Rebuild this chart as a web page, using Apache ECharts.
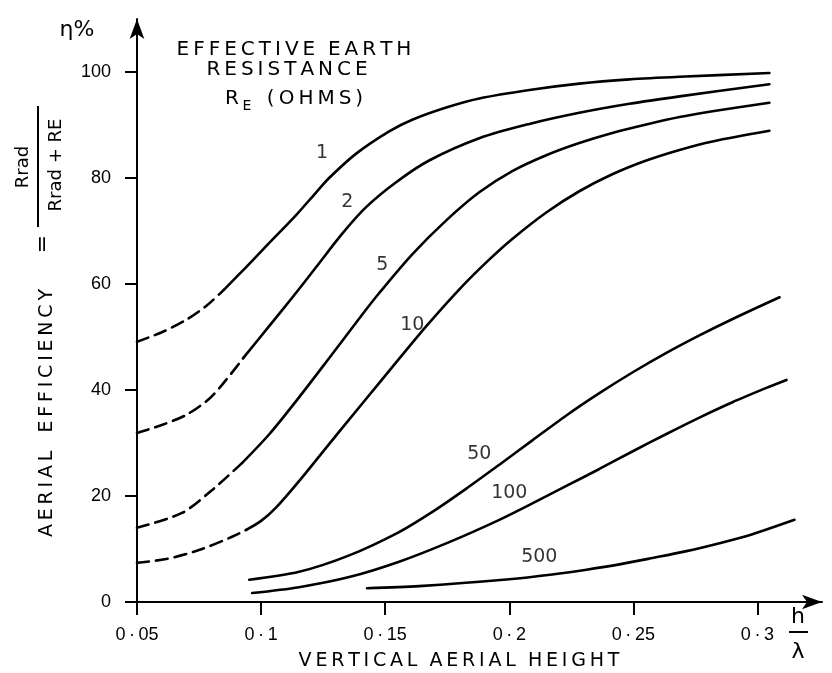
<!DOCTYPE html>
<html>
<head>
<meta charset="utf-8">
<script src="https://cdn.jsdelivr.net/npm/echarts@6/dist/echarts.min.js"></script>
<style>html,body{margin:0;padding:0;background:#fff}#c{width:832px;height:673px}</style>
</head>
<body>
<div id="c"></div>
<script>
// ---- data (h/lambda, efficiency %) ----
const xTicks = [0.05, 0.1, 0.15, 0.2, 0.25, 0.3];
const xTickLabels = ['0·05', '0·1', '0·15', '0·2', '0·25', '0·3'];
const yTicks = [0, 20, 40, 60, 80, 100];
const yTickLabels = ['0', '20', '40', '60', '80', '100'];

const re1Dashed = [[0.05,49.1],[0.060,50.9],[0.070,53.3],[0.078,55.9],[0.085,58.9]];
const re1Solid = [[0.085,58.9],[0.0940,63.2],[0.1032,67.7],[0.1141,73.0],[0.1222,77.3],[0.1274,80.0],[0.1383,84.6],[0.1516,88.8],[0.1609,91.0],[0.1746,93.3],[0.1879,95.0],[0.2081,96.6],[0.2282,97.8],[0.2484,98.6],[0.2686,99.1],[0.3048,99.8]];
const re2Dashed = [[0.05,31.9],[0.060,33.4],[0.0698,35.3],[0.079,38.3],[0.0859,41.9],[0.0931,46.2]];
const re2Solid = [[0.0931,46.2],[0.1030,51.9],[0.1125,57.4],[0.1222,63.2],[0.1327,69.5],[0.1423,74.5],[0.1544,79.2],[0.1677,83.3],[0.1879,87.5],[0.2081,90.2],[0.2282,92.3],[0.2484,94.0],[0.2686,95.4],[0.3048,97.7]];
const re5Dashed = [[0.05,14.0],[0.0681,16.8],[0.0802,21.1],[0.0923,26.2]];
const re5Solid = [[0.0923,26.2],[0.1032,31.6],[0.1141,37.9],[0.1274,46.0],[0.1407,54.2],[0.1476,58.3],[0.1609,65.6],[0.1746,72.0],[0.1879,77.3],[0.2012,81.3],[0.2149,84.3],[0.2282,86.6],[0.2415,88.5],[0.2552,90.1],[0.2686,91.5],[0.2819,92.6],[0.3048,94.2]];
const re10Dashed = [[0.05,7.4],[0.0617,8.1],[0.075,9.8],[0.0883,12.3],[0.094,13.6]];
const re10Solid = [[0.094,13.6],[0.100,15.3],[0.106,17.8],[0.1153,22.8],[0.1274,29.8],[0.1407,37.4],[0.1544,45.2],[0.1665,52.0],[0.1811,59.6],[0.1919,64.6],[0.2012,68.5],[0.2149,73.5],[0.2282,77.5],[0.2415,80.7],[0.2552,83.3],[0.2686,85.3],[0.2819,86.9],[0.3048,88.9]];
const re50 = [[0.0952,4.2],[0.1153,5.7],[0.1355,8.8],[0.1556,13.2],[0.169,17.0],[0.1827,21.4],[0.196,25.9],[0.2093,30.5],[0.223,35.2],[0.2363,39.4],[0.2496,43.3],[0.2633,47.0],[0.2766,50.3],[0.29,53.4],[0.3089,57.5]];
const re100 = [[0.0964,1.7],[0.1153,2.8],[0.1355,4.7],[0.1556,7.6],[0.1758,11.3],[0.196,15.5],[0.2093,18.6],[0.223,21.9],[0.2363,25.1],[0.2496,28.4],[0.2633,31.7],[0.2766,34.8],[0.2899,37.7],[0.3036,40.4],[0.3117,41.9]];
const re500 = [[0.1427,2.6],[0.1637,3.0],[0.2,4.3],[0.2173,5.2],[0.2311,6.1],[0.2444,7.1],[0.2577,8.3],[0.2714,9.6],[0.2847,11.1],[0.298,12.8],[0.3149,15.5]];

const curveLabels = ['1', '2', '5', '10', '50', '100', '500'];
const curveLabelPos = [[0.1246,84.7],[0.1347,75.5],[0.1488,63.6],[0.1609,52.3],[0.1879,27.9],[0.2,20.6],[0.2121,8.5]];

// ---- chart ----
const FF = '"DejaVu Sans", sans-serif';
const NUMF = '"Liberation Sans", sans-serif';
function sp(s) { return s.split('').join('\u2009'); }

function lineSeries(data, dashed) {
  return {
    type: 'line', data: data, smooth: 0.3, symbol: 'none', silent: true,
    lineStyle: { color: '#000', width: 2.6, type: dashed ? [12, 7] : 'solid', cap: 'round' },
    z: 3
  };
}

function txt(text, x, y, size, opts) {
  opts = opts || {};
  return {
    type: 'text', x: x, y: y, rotation: opts.rotation || 0, silent: true,
    style: {
      text: text, fill: '#000', fontSize: size, fontFamily: opts.family || FF,
      align: 'center', verticalAlign: 'middle', textAlign: 'center', textVerticalAlign: 'middle'
    }
  };
}

const chart = echarts.init(document.getElementById('c'), null, { renderer: 'canvas' });
const R90 = Math.PI / 2;

chart.setOption({
  backgroundColor: '#fff',
  animation: false,
  grid: { left: 137, right: 10, top: 19, bottom: 71, containLabel: false },
  xAxis: {
    type: 'value', min: 0.05, max: 0.326, interval: 0.05,
    axisLine: { show: true, symbol: ['none', 'arrow'], symbolSize: [11, 20], lineStyle: { color: '#000', width: 2 } },
    axisTick: { show: true, inside: false, length: 13, customValues: xTicks, lineStyle: { color: '#000', width: 2 } },
    axisLabel: {
      show: true, margin: 24, customValues: xTicks, color: '#000', fontSize: 18, fontFamily: NUMF,
      formatter: function (v) {
        for (let i = 0; i < xTicks.length; i++) if (Math.abs(v - xTicks[i]) < 1e-6) return xTickLabels[i].replace('·', '\u2009·\u2009');
        return '';
      }
    },
    splitLine: { show: false }
  },
  yAxis: {
    type: 'value', min: 0, max: 110, interval: 20,
    axisLine: { show: true, symbol: ['none', 'arrow'], symbolSize: [11, 20], lineStyle: { color: '#000', width: 2 } },
    axisTick: { show: true, inside: false, length: 12, customValues: yTicks, lineStyle: { color: '#000', width: 2 } },
    axisLabel: {
      show: true, margin: 26, customValues: yTicks, color: '#000', fontSize: 18, fontFamily: NUMF,
      formatter: function (v) {
        for (let i = 0; i < yTicks.length; i++) if (Math.abs(v - yTicks[i]) < 1e-6) return yTickLabels[i];
        return '';
      }
    },
    splitLine: { show: false }
  },
  series: [
    lineSeries(re1Dashed, true), lineSeries(re1Solid, false),
    lineSeries(re2Dashed, true), lineSeries(re2Solid, false),
    lineSeries(re5Dashed, true), lineSeries(re5Solid, false),
    lineSeries(re10Dashed, true), lineSeries(re10Solid, false),
    lineSeries(re50, false), lineSeries(re100, false), lineSeries(re500, false),
    {
      type: 'scatter', symbolSize: 0, silent: true, z: 4,
      data: curveLabelPos.map(function (p, i) { return { value: p, name: curveLabels[i] }; }),
      label: { show: true, position: 'inside', formatter: '{b}', color: '#000', fontSize: 19, fontFamily: FF }
    }
  ],
  graphic: [
    txt('η%', 77, 30, 22),
    txt(sp('EFFECTIVE') + '  ' + sp('EARTH'), 294, 50, 20),
    txt(sp('RESISTANCE'), 287, 70, 20),
    txt('R', 232, 99, 20),
    txt('E', 247, 106, 14),
    txt(sp('(OHMS)'), 315, 99, 20),
    txt(sp('AERIAL') + '   ' + sp('EFFICIENCY'), 47, 413, 19, { rotation: R90 }),
    txt('=', 43, 244, 22, { rotation: R90 }),
    txt('Rrad', 23, 167, 18, { rotation: R90 }),
    { type: 'line', silent: true, shape: { x1: 38, y1: 106, x2: 38, y2: 227 }, style: { stroke: '#000', lineWidth: 2 } },
    txt('Rrad + RE', 56, 165, 18, { rotation: R90 }),
    txt(sp('VERTICAL') + '  ' + sp('AERIAL') + '  ' + sp('HEIGHT'), 459, 661, 19),
    txt('h', 798, 617, 22),
    { type: 'line', silent: true, shape: { x1: 789, y1: 632, x2: 808, y2: 632 }, style: { stroke: '#000', lineWidth: 2 } },
    txt('λ', 798, 652, 22)
  ]
});
</script>
</body>
</html>
